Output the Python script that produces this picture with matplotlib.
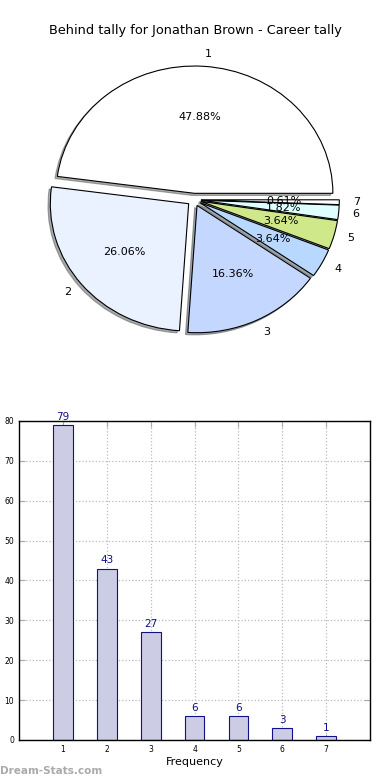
import matplotlib
matplotlib.use("Agg")
import matplotlib.pyplot as plt
import numpy as np

categories = ["1", "2", "3", "4", "5", "6", "7"]
counts = [79, 43, 27, 6, 6, 3, 1]
pie_colors = ["#ffffff", "#eaf1ff", "#c4d8ff", "#b8d8ff", "#cfe98a", "#ddffff", "#ffffff"]
title = "Behind tally for Jonathan Brown - Career tally"

fig = plt.figure(figsize=(3.9, 7.8), dpi=100)

# Pie (top), aspect left loose so it comes out a bit wider than tall
ax1 = fig.add_axes([0.054, 0.54, 0.887, 0.408])
wedges, texts, autotexts = ax1.pie(
    counts, labels=categories, colors=pie_colors, autopct="%1.2f%%",
    explode=[0.05] * len(counts), shadow={"ox": -0.012, "oy": -0.012, "shade": 0.65},
    startangle=0,
    wedgeprops={"edgecolor": "black", "linewidth": 0.8},
    textprops={"fontsize": 8})
ax1.set_aspect("auto")
ax1.set_xlim(-1.25, 1.25)
ax1.set_ylim(-1.25, 1.25)
fig.text(0.5, 0.961, title, ha="center", va="center", fontsize=9.3)

# Bars (bottom)
ax2 = fig.add_axes([0.049, 0.0513, 0.9, 0.409])
x = np.arange(1, len(counts) + 1)
ax2.bar(x, counts, width=0.45, color="#ccccE4", edgecolor="#10108a", linewidth=0.8, zorder=2)
for xi, c in zip(x, counts):
    ax2.text(xi, c + 0.8, str(c), ha="center", va="bottom", fontsize=7.5, color="#10108a")
ax2.set_xlim(0, 8)
ax2.set_ylim(0, 80)
ax2.set_xticks(x)
ax2.set_xticklabels(categories)
ax2.set_yticks(range(0, 81, 10))
ax2.tick_params(labelsize=5.5, direction="in", top=True, right=True, color="#aaaaaa", length=4)
ax2.grid(True, linestyle=":", color="#bbbbbb", linewidth=0.9, zorder=0)
ax2.set_axisbelow(True)
ax2.set_xlabel("Frequency", fontsize=8, labelpad=2)
for s in ax2.spines.values():
    s.set_linewidth(1.0)

fig.text(0.0, 0.005, "Dream-Stats.com", fontsize=7.5, color="#aaaaaa", fontweight="bold",
         ha="left", va="bottom")

fig.savefig("out.png", dpi=100)
